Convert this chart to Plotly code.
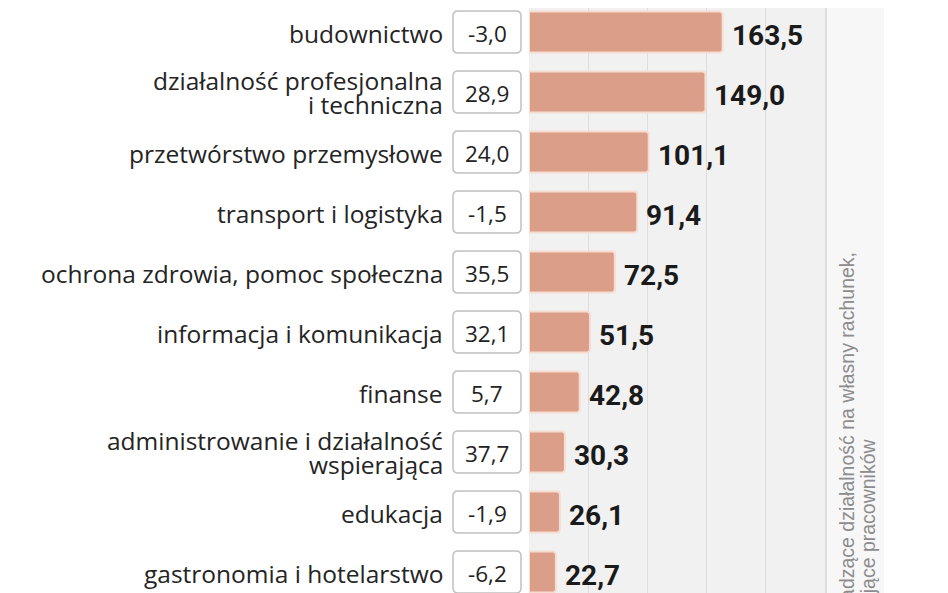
import plotly.graph_objects as go

categories = [
    "budownictwo",
    "działalność profesjonalna\ni techniczna",
    "przetwórstwo przemysłowe",
    "transport i logistyka",
    "ochrona zdrowia, pomoc społeczna",
    "informacja i komunikacja",
    "finanse",
    "administrowanie i działalność\nwspierająca",
    "edukacja",
    "gastronomia i hotelarstwo",
]
values = [163.5, 149.0, 101.1, 91.4, 72.5, 51.5, 42.8, 30.3, 26.1, 22.7]
changes = [-3.0, 28.9, 24.0, -1.5, 35.5, 32.1, 5.7, 37.7, -1.9, -6.2]
side_note = ["Osoby prowadzące działalność na własny rachunek,",
             "zatrudniające pracowników"]

# page body has an 8px margin; figure is sized to fit the visible window
OFF = 8
W, H = 948 - OFF, 593 - OFF


def px(X):
    return (X - OFF) / W


def py(Y):
    return 1 - (Y - OFF) / H


def fmt(v):
    return f"{v:.1f}".replace(".", ",")


idx = list(range(len(categories)))

fig = go.Figure()
fig.add_trace(go.Bar(
    x=values, y=idx, orientation="h", width=0.68,
    marker=dict(color="#db9e88", line=dict(color="#f8dccf", width=2), cornerradius=3),
    hoverinfo="skip",
))

shapes = []
annotations = []

# light strip to the right of the plot
shapes.append(dict(type="rect", xref="paper", yref="paper",
                   x0=px(825), x1=px(884), y0=0, y1=1,
                   fillcolor="#f7f7f7", line=dict(width=0), layer="below"))
shapes.append(dict(type="line", xref="paper", yref="paper",
                   x0=px(826), x1=px(826), y0=0, y1=1,
                   line=dict(color="#d6d6d6", width=1.5), layer="below"))

bx0, bx1 = px(453), px(521)
rx = 5 / W
hh = 0.35
ry = 5 / 60
for i, (cat, ch, v) in enumerate(zip(categories, changes, values)):
    # rounded box for change value
    y0, y1 = i - hh, i + hh
    path = (f"M {bx0 + rx},{y0} L {bx1 - rx},{y0} Q {bx1},{y0} {bx1},{y0 + ry} "
            f"L {bx1},{y1 - ry} Q {bx1},{y1} {bx1 - rx},{y1} "
            f"L {bx0 + rx},{y1} Q {bx0},{y1} {bx0},{y1 - ry} "
            f"L {bx0},{y0 + ry} Q {bx0},{y0} {bx0 + rx},{y0} Z")
    shapes.append(dict(type="path", xref="paper", yref="y", path=path,
                       fillcolor="white", line=dict(color="#c0c0c0", width=1.5)))
    annotations.append(dict(x=(bx0 + bx1) / 2, xref="paper", y=i, yref="y",
                            text=fmt(ch), showarrow=False, xanchor="center",
                            yshift=-1,
                            font=dict(family="Open Sans", size=22.5, color="#222222")))
    # category label
    lines = cat.split("\n")
    if len(lines) == 1:
        shifts = [-1.5]
    else:
        shifts = [11.5, -12.5]
    for ln, s in zip(lines, shifts):
        annotations.append(dict(x=px(445), xref="paper", y=i, yref="y",
                                text=ln, showarrow=False, xanchor="right",
                                yshift=s,
                                font=dict(family="Open Sans", size=24.5, color="#242424")))
    # value label
    annotations.append(dict(x=v, xref="x", y=i, yref="y", text=fmt(v),
                            showarrow=False, xanchor="left", xshift=7, yshift=-3,
                            font=dict(family="Roboto", size=28, color="#1a1a1a",
                                      weight="bold")))

# rotated side note
for ln, xp, ytop in zip(side_note, [847, 867], [250, 437]):
    annotations.append(dict(x=px(xp), xref="paper", y=py(ytop), yref="paper",
                            text=ln, showarrow=False, textangle=-90,
                            xanchor="center", yanchor="top",
                            font=dict(family="Liberation Sans", size=19.5, color="#8c8c8c")))

fig.update_layout(
    width=W, height=H,
    margin=dict(l=0, r=0, t=0, b=0),
    paper_bgcolor="white",
    plot_bgcolor="#f1f1f1",
    showlegend=False,
    shapes=shapes,
    annotations=annotations,
    xaxis=dict(domain=[px(529), px(825)], range=[0, 250],
               tickvals=[50, 100, 150, 200, 250], showticklabels=False,
               showgrid=True, gridcolor="#dddddd", gridwidth=1,
               zeroline=False, showline=False, fixedrange=True),
    yaxis=dict(domain=[0, 1], range=[-24 / 60 + H / 60, -24 / 60], showticklabels=False,
               showgrid=False, zeroline=False, showline=False, fixedrange=True),
)

fig.write_html("out.html")
